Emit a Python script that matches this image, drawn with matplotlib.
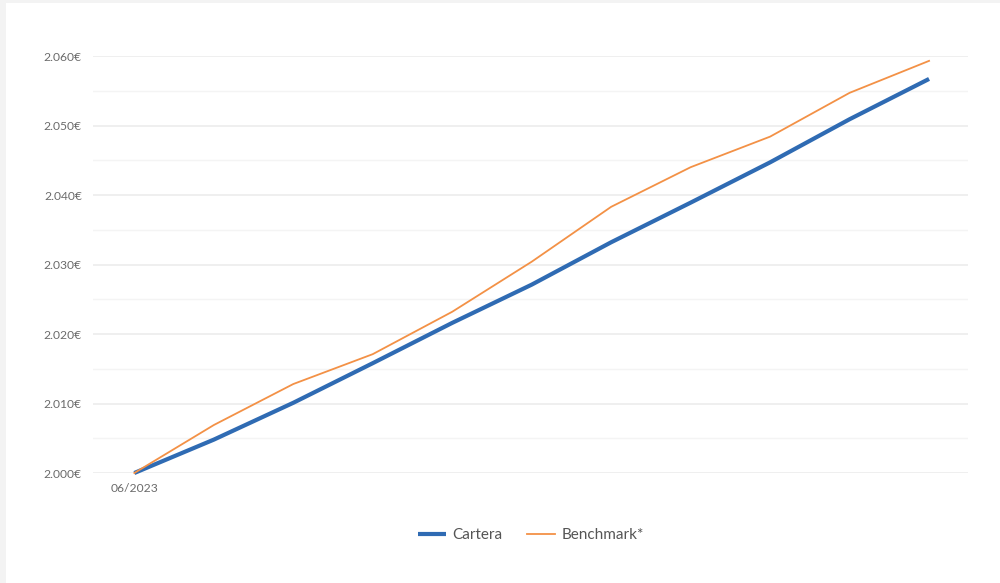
import matplotlib
matplotlib.use("Agg")
import matplotlib.pyplot as plt
from matplotlib.patches import Rectangle
from matplotlib.ticker import FuncFormatter, MultipleLocator

plt.rcParams['font.family'] = ['Lato', 'DejaVu Sans']

# monthly values (EUR)
periods = ["06/2023", "07/2023", "08/2023", "09/2023", "10/2023", "11/2023",
           "12/2023", "01/2024", "02/2024", "03/2024", "04/2024"]
cartera = [2000.0, 2004.8, 2010.1, 2015.8, 2021.6, 2027.1,
           2033.2, 2038.9, 2044.7, 2050.9, 2056.7]
benchmark = [2000.0, 2006.9, 2012.8, 2017.1, 2023.2, 2030.4,
             2038.3, 2044.0, 2048.4, 2054.7, 2059.3]
tick_labels = ["06/2023"]

fig = plt.figure(figsize=(10, 5.83), dpi=100)
fig.patch.set_facecolor("white")

# grey card edges on the left and top
fig.add_artist(Rectangle((0, 0), 0.006, 1, transform=fig.transFigure,
                         facecolor="#f3f3f3", edgecolor="none"))
fig.add_artist(Rectangle((0, 1 - 3 / 583), 1, 3 / 583, transform=fig.transFigure,
                         facecolor="#f3f3f3", edgecolor="none"))

ax = fig.add_axes([0.093, (583 - 473) / 583, 0.875, (473 - 56) / 583])
x = list(range(len(periods)))
ax.plot(x, cartera, color="#2F6BB3", lw=3.0, label="Cartera",
        solid_capstyle="butt", clip_on=False, zorder=3)
ax.plot(x, benchmark, color="#F39146", lw=1.3, label="Benchmark*",
        clip_on=False, zorder=4)

ax.set_xlim(-0.52, 10.49)
ax.set_ylim(2000, 2060)
ax.yaxis.set_major_locator(MultipleLocator(10))
ax.yaxis.set_minor_locator(MultipleLocator(5))
ax.yaxis.set_major_formatter(FuncFormatter(lambda v, p: f"{v / 1000:.3f}€"))
ax.grid(axis="y", which="major", color="#ececec", lw=1.2)
ax.grid(axis="y", which="minor", color="#f4f4f4", lw=1.0)
ax.set_axisbelow(True)

ax.set_xticks([0])
ax.set_xticklabels(tick_labels)
ax.tick_params(axis="both", which="both", length=0, labelsize=8.7, labelcolor="#6b6b6b")
ax.tick_params(axis="y", pad=8)
ax.tick_params(axis="x", pad=7)
for s in ax.spines.values():
    s.set_visible(False)

leg = fig.legend(loc="center", bbox_to_anchor=(0.531, 1 - 535 / 583), ncol=2,
                 frameon=False, fontsize=11, handlelength=1.8, columnspacing=1.6,
                 handletextpad=0.45)
for t in leg.get_texts():
    t.set_color("#555555")

fig.savefig("out.png", dpi=100)
